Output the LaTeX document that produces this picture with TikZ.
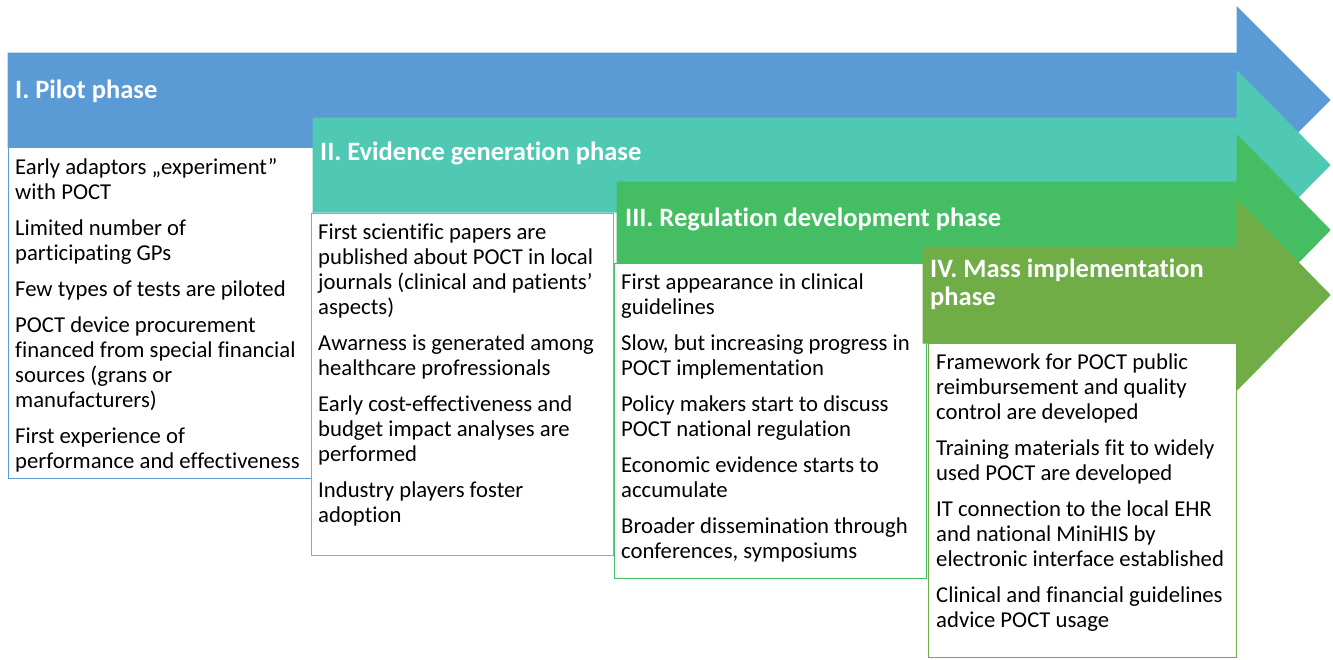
\documentclass[tikz,border=0pt]{standalone}
\usepackage{fontspec}
\setmainfont{Carlito}[Ligatures=NoCommon]
\usetikzlibrary{positioning}
\definecolor{pilotblue}{HTML}{5B9BD5}
\definecolor{evidteal}{HTML}{4FC9B4}
\definecolor{reggreen}{HTML}{45BE63}
\definecolor{massgreen}{HTML}{70AD47}

\begin{document}
\begin{tikzpicture}[
    x=1pt, y=-1pt,
    phasearrow/.style={draw=white, line width=1pt},
    phasebox/.style={anchor=north west, fill=white, line width=1.3pt, inner sep=0pt},
    phasetitle/.style={anchor=base west, text=white, align=left, inner sep=0pt,
      font=\fontsize{26.5}{28}\selectfont\bfseries},
    bodytext/.style={align=left, inner sep=0pt, font=\fontsize{22.7}{25}\selectfont}
  ]
    \useasboundingbox (0,0) rectangle (1333,659);

    \fill[phasearrow, pilotblue]
      (8,53) -- (1237,53) -- (1237,7) -- (1330,100) -- (1237,193) -- (1237,147) -- (8,147) -- cycle;
    \node[phasetitle] (titleI) at (15,98) {I. Pilot phase};
    \node[phasebox, draw=pilotblue, minimum width=305, minimum height=331] (boxI) at (8,147) {};
    \node[bodytext, below right=11pt and 7pt of boxI.north west] (listI)
      {Early adaptors „experiment”\\with POCT\\[11pt]
       Limited number of\\participating GPs\\[11pt]
       Few types of tests are piloted\\[11pt]
       POCT device procurement\\financed from special financial\\sources (grans or\\manufacturers)\\[11pt]
       First experience of\\performance and effectiveness};

    \fill[phasearrow, evidteal]
      (313,118) -- (1237,118) -- (1237,71) -- (1330,165) -- (1237,259) -- (1237,212) -- (313,212) -- cycle;
    \node[phasetitle] (titleII) at (320,160) {II. Evidence generation phase};
    \node[phasebox, draw=evidteal, minimum width=302, minimum height=342] (boxII) at (311,213) {};
    \node[bodytext, below right=11pt and 7pt of boxII.north west] (listII)
      {First scientific papers are\\published about POCT in local\\journals (clinical and patients’\\aspects)\\[11pt]
       Awarness is generated among\\healthcare profressionals\\[11pt]
       Early cost-effectiveness and\\budget impact analyses are\\performed\\[11pt]
       Industry players foster\\adoption};

    \fill[phasearrow, reggreen]
      (617,182) -- (1237,182) -- (1237,135) -- (1330,230) -- (1237,325) -- (1237,278) -- (617,278) -- cycle;
    \node[phasetitle] (titleIII) at (625,226) {III. Regulation development phase};
    \node[phasebox, draw=reggreen, minimum width=312, minimum height=315] (boxIII) at (614,263) {};
    \node[bodytext, below right=11pt and 7pt of boxIII.north west] (listIII)
      {First appearance in clinical\\guidelines\\[11pt]
       Slow, but increasing progress in\\POCT implementation\\[11pt]
       Policy makers start to discuss\\POCT national regulation\\[11pt]
       Economic evidence starts to\\accumulate\\[11pt]
       Broader dissemination through\\conferences, symposiums};

    \fill[phasearrow, massgreen]
      (923,247) -- (1237,247) -- (1237,200) -- (1330,295) -- (1237,390) -- (1237,343) -- (923,343) -- cycle;
    \node[phasetitle] (titleIV) at (930,305) {IV. Mass implementation\\phase};
    \node[phasebox, draw=massgreen, minimum width=308, minimum height=314] (boxIV) at (928,343) {};
    \node[bodytext, below right=11pt and 8pt of boxIV.north west] (listIV)
      {Framework for POCT public\\reimbursement and quality\\control are developed\\[11pt]
       Training materials fit to widely\\used POCT are developed\\[11pt]
       IT connection to the local EHR\\and national MiniHIS by\\electronic interface established\\[11pt]
       Clinical and financial guidelines\\advice POCT usage};
\end{tikzpicture}
\end{document}
